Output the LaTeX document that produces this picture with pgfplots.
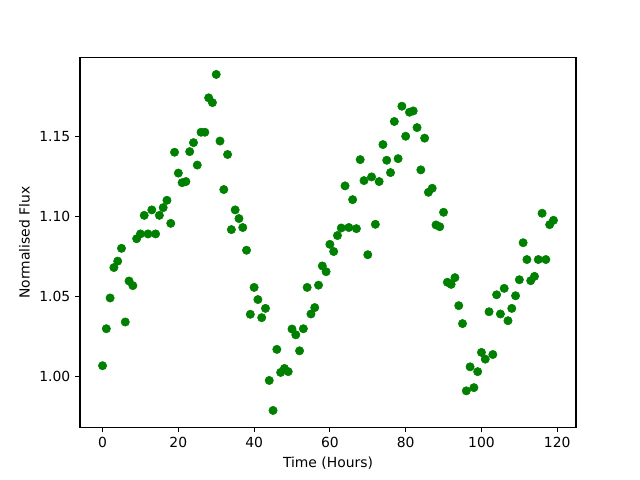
\documentclass[border=0pt]{standalone}
\usepackage{pgfplots}
\pgfplotsset{compat=1.18}
\usepackage{fontspec}
\setmainfont{DejaVu Sans}
\definecolor{mplgreen}{RGB}{0,128,0}
\begin{document}
\begin{tikzpicture}[x=1pt,y=1pt]
\path[use as bounding box] (0,0) rectangle (460.8,345.6);
\begin{axis}[
  at={(57.6pt,38.016pt)}, anchor=south west,
  width=357.12pt, height=266.1pt, scale only axis,
  xmin=-5.95, xmax=124.95, ymin=0.9683, ymax=1.1991,
  xtick={0,20,40,60,80,100,120}, ytick={1.00,1.05,1.10,1.15},
  yticklabel style={/pgf/number format/.cd, fixed, fixed zerofill, precision=2},
  scaled y ticks=false,
  tick align=outside, major tick length=3.5pt, tick pos=left,
  tick style={black, line width=0.8pt}, axis line style={line width=0.8pt},
  /pgf/number format/assume math mode=true,
  ticklabel style={font=\fontsize{10}{12}\selectfont},
  label style={font=\fontsize{10}{12}\selectfont},
  xlabel={Time (Hours)}, ylabel={Normalised Flux},
  clip=false,
]
\addplot[only marks, mark=*, mark size=3pt, color=mplgreen, fill=mplgreen] table {
x y
0 1.0067
1 1.0298
2 1.049
3 1.068
4 1.072
5 1.080
6 1.034
7 1.0596
8 1.0567
9 1.086
10 1.089
11 1.1006
12 1.089
13 1.104
14 1.089
15 1.1006
16 1.1054
17 1.110
18 1.0956
19 1.140
20 1.127
21 1.121
22 1.1217
23 1.1404
24 1.146
25 1.132
26 1.1525
27 1.1525
28 1.174
29 1.171
30 1.1886
31 1.147
32 1.1167
33 1.1386
34 1.0917
35 1.104
36 1.0986
37 1.093
38 1.0788
39 1.0388
40 1.0556
41 1.048
42 1.0367
43 1.0425
44 0.9975
45 0.97875
46 1.0169
47 1.0025
48 1.005
49 1.003
50 1.0296
51 1.026
52 1.016
53 1.0298
54 1.0556
55 1.039
56 1.043
57 1.057
58 1.069
59 1.0654
60 1.0825
61 1.078
62 1.088
63 1.0927
64 1.119
65 1.093
66 1.1104
67 1.0923
68 1.1354
69 1.1223
70 1.076
71 1.1246
72 1.095
73 1.1217
74 1.1448
75 1.135
76 1.1273
77 1.1592
78 1.136
79 1.16875
80 1.150
81 1.165
82 1.1658
83 1.1554
84 1.129
85 1.1488
86 1.115
87 1.1175
88 1.0946
89 1.0935
90 1.1025
91 1.0588
92 1.0575
93 1.0617
94 1.0442
95 1.033
96 0.991
97 1.006
98 0.993
99 1.003
100 1.015
101 1.0108
102 1.0404
103 1.0137
104 1.051
105 1.039
106 1.055
107 1.0348
108 1.0425
109 1.0504
110 1.0604
111 1.0835
112 1.073
113 1.0598
114 1.0625
115 1.073
116 1.1019
117 1.073
118 1.0948
119 1.0975
};
\end{axis}
\end{tikzpicture}
\end{document}
